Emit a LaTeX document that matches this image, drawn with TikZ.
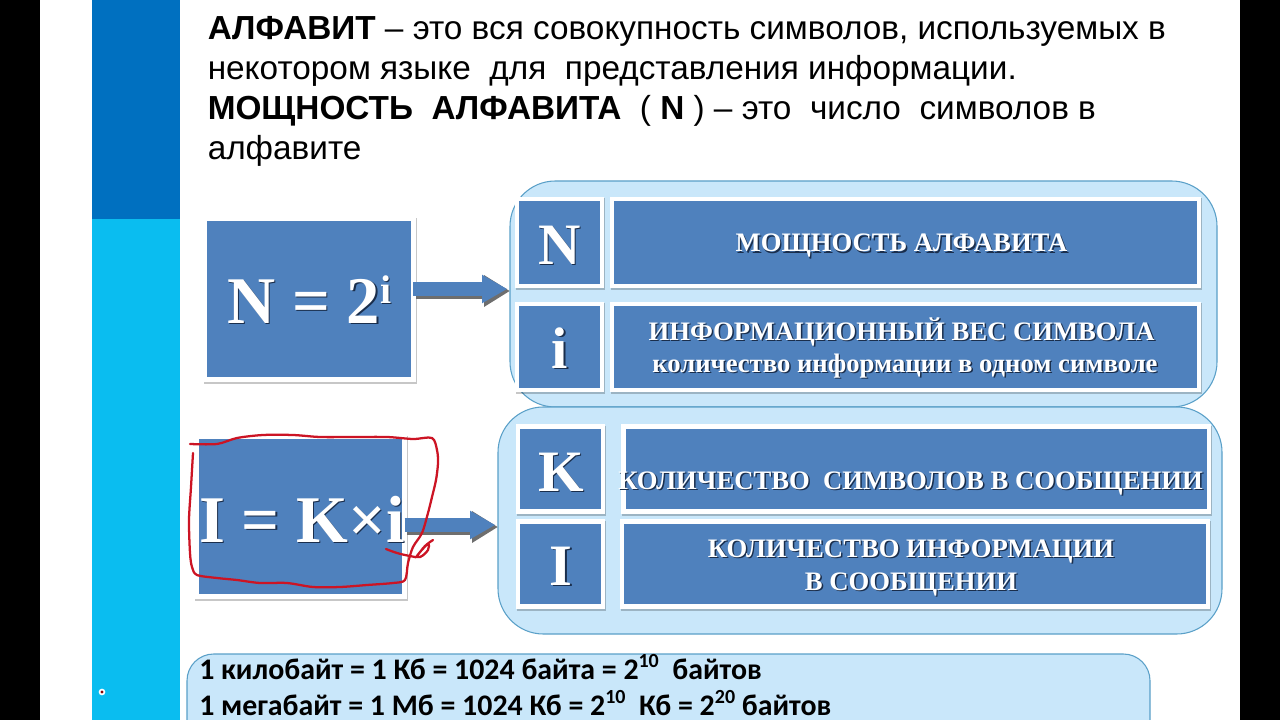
\documentclass[tikz,border=0pt]{standalone}
\usepackage{fontspec}
\setmainfont{Liberation Sans}
\newfontfamily\serifb[BoldFont=Liberation Serif Bold]{Liberation Serif}
\newfontfamily\carl{Carlito}
\usetikzlibrary{shadows,arrows.meta}
\definecolor{boxblue}{HTML}{4F81BD}
\definecolor{panelfill}{HTML}{C9E7FA}
\definecolor{panelline}{HTML}{5AA0C8}
\definecolor{sidedark}{HTML}{0070C0}
\definecolor{sidecyan}{HTML}{0ABDF0}
\definecolor{txtshadow}{HTML}{1A2E4C}
\definecolor{inkred}{HTML}{CC1424}
\definecolor{arrowgrey}{HTML}{6E6E6E}
\newcommand{\sh}[1]{\leavevmode\rlap{\kern1.1pt\raisebox{-1.1pt}{\textcolor{txtshadow}{#1}}}#1}
\tikzset{
  x=0.75pt,y=-0.75pt,
  wh/.style 2 args={minimum width=#1*0.75pt,minimum height=#2*0.75pt},
  bluebox/.style={rectangle,fill=boxblue,draw=white,line width=3.4pt,inner sep=0pt,outer sep=0pt,
    drop shadow={shadow xshift=0.9pt,shadow yshift=-1.3pt,opacity=0.22,fill=black,draw=black,line width=3.4pt}},
  lab/.style={anchor=base,inner sep=0pt,text=white,font=\serifb\bfseries\fontsize{20}{24}\selectfont},
  biglab/.style={lab,font=\serifb\bfseries\fontsize{44}{48}\selectfont},
  hugelab/.style={lab,anchor=base west,font=\serifb\bfseries\fontsize{50}{54}\selectfont},
  panel/.style={rectangle,rounded corners=34pt,fill=panelfill,draw=panelline,line width=0.8pt,inner sep=0pt,outer sep=0pt},
  bigtxt/.style={anchor=base west,inner sep=0pt,text=black,font=\fontsize{25}{30}\selectfont},
  kbtxt/.style={anchor=base west,inner sep=0pt,text=black,font=\carl\bfseries\fontsize{22.4}{26}\selectfont},
  blockshadow/.style={draw=arrowgrey,line width=12pt,-{Triangle[length=19.5pt,width=22.5pt]}},
  blockblue/.style={draw=boxblue,line width=10pt,-{Triangle[length=19pt,width=20pt]}},
  ink/.style={draw=inkred,line width=1.7pt,line cap=round,line join=round}
}
\newcommand{\up}[1]{\raisebox{0.38em}{\fontsize{15}{17}\selectfont #1}}
\begin{document}
\begin{tikzpicture}
\useasboundingbox (0,0) rectangle (1280,720);
% backdrop
\fill[white] (0,0) rectangle (1280,720);
\fill[black] (0,0) rectangle (40,720);
\fill[black] (1240,0) rectangle (1280,720);
\fill[sidedark] (92,0) rectangle (180,219);
\fill[sidecyan] (92,219) rectangle (180,720);
\node[circle,fill=white,inner sep=0pt,minimum size=5pt] (dot) at (102,692) {};
\fill[red!55!black] (dot.center) circle (1.2pt);
% heading
\node[bigtxt] (t1) at (207.5,39.5) {\textbf{АЛФАВИТ} – это вся совокупность символов, используемых в};
\node[bigtxt] (t2) at (207.5,79.5) {некотором языке\ \ для\ \ представления информации.};
\node[bigtxt] (t3) at (207.5,119.5) {\textbf{МОЩНОСТЬ\ \ АЛФАВИТА}\ \ ( \textbf{N} ) – это\ \ число\ \ символов в};
\node[bigtxt] (t4) at (207.5,159.5) {алфавите};
% panels
\node[panel,wh={707}{226}] (p1) at (863.5,294) {};
\node[panel,wh={724}{227}] (p2) at (860,520.5) {};
\node[panel,wh={963}{130},rounded corners=20pt] (p3) at (668.5,719) {};
% formula boxes
\node[bluebox,wh={208.5}{161}] (f1) at (309.2,299) {};
\node[hugelab] (f1t) at (227,323) {\sh{N = 2\raisebox{15pt}{\fontsize{30}{32}\selectfont i}}};
\node[bluebox,wh={208}{160}] (f2) at (300.5,516.5) {};
\node[hugelab] (f2t) at (199,542) {\sh{I = K×i}};
% upper panel boxes
\node[bluebox,wh={85}{87}] (bN) at (559.5,242.5) {};
\node[biglab] (bNt) at (559.5,264) {\sh{N}};
\node[bluebox,wh={85}{86}] (bi) at (559.5,347) {};
\node[biglab] (bit) at (560,368) {\sh{i}};
\node[bluebox,wh={587}{87}] (lN) at (905.5,242.5) {};
\node[lab] (lNt) at (901.5,252) {\sh{МОЩНОСТЬ АЛФАВИТА}};
\node[bluebox,wh={587}{86}] (li) at (905.5,347) {};
\node[lab] (lit1) at (901.5,340) {\sh{ИНФОРМАЦИОННЫЙ ВЕС СИМВОЛА}};
\node[lab] (lit2) at (905,372) {\sh{количество информации в одном символе}};
% lower panel boxes
\node[bluebox,wh={85}{85}] (bK) at (560.5,469) {};
\node[biglab] (bKt) at (561,491) {\sh{K}};
\node[bluebox,wh={85}{85}] (bI) at (560.5,564) {};
\node[biglab] (bIt) at (561,585) {\sh{I}};
\node[bluebox,wh={585.5}{85}] (lK) at (916,469) {};
\node[lab] (lKt) at (910.5,489) {\sh{КОЛИЧЕСТВО\ \ СИМВОЛОВ В СООБЩЕНИИ}};
\node[bluebox,wh={586}{85}] (lI) at (915,564) {};
\node[lab] (lIt1) at (911,557) {\sh{КОЛИЧЕСТВО ИНФОРМАЦИИ}};
\node[lab] (lIt2) at (911,590) {\sh{В СООБЩЕНИИ}};
% arrows
\draw[blockshadow] ([xshift=2pt]f1.east |- 0,291) -- (p1.west |- 0,291);
\draw[blockblue] (f1.east |- 0,289) -- ([xshift=-2pt]p1.west |- 0,289);
\draw[blockshadow] ([xshift=2pt]f2.east |- 0,527) -- (p2.west |- 0,527);
\draw[blockblue] (f2.east |- 0,525) -- ([xshift=-2pt]p2.west |- 0,525);
% freehand red outline
\draw[ink] plot[smooth,tension=0.5] coordinates {(190,444) (217,444) (237,438) (263,435) (293,435) (320,437) (353,437) (387,437) (413,439) (432,438) (437,450) (438,463) (436,480) (432,497) (428,513) (422,533) (413,547) (408,563) (405,580) (393,583) (367,585) (340,587) (313,587) (287,583) (260,583) (237,580) (217,578) (197,575) (192,567) (190,553) (189,520) (191,487) (193,453)};
\draw[ink] plot[smooth,tension=0.6] coordinates {(386,549) (397,553) (410,556) (420,557) (428,550) (428,544) (420,552) (417,556) (425,546) (433,540)};
% units
\node[kbtxt] (k1) at (199,679) {1 килобайт = 1 Кб = 1024 байта = 2\up{10}\ \ байтов};
\node[kbtxt] (k2) at (199,715) {1 мегабайт = 1 Мб = 1024 Кб = 2\up{10}\ \ Кб = 2\up{20} байтов};
\end{tikzpicture}
\end{document}
